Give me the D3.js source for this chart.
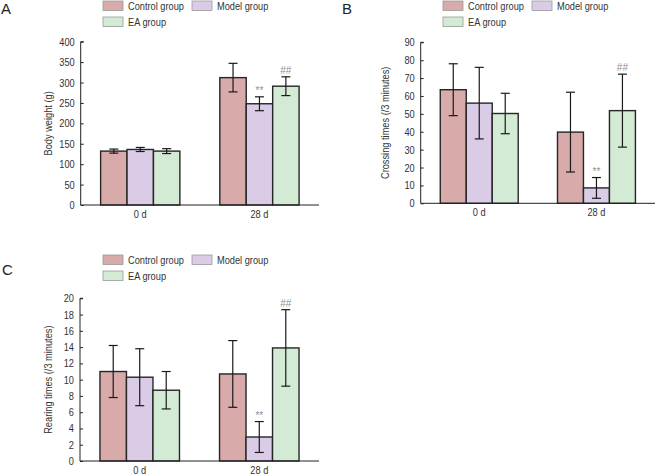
<!DOCTYPE html>
<html><head><meta charset="utf-8">
<script src="https://cdn.jsdelivr.net/npm/d3@7"></script>
<style>body{margin:0;background:#fff;}svg{display:block;font-family:"Liberation Sans",Arial,sans-serif;}</style>
</head><body>
<svg id="c" width="656" height="476"></svg>
<script>
const categories = ["0 d", "28 d"];
const seriesNames = ["Control group", "Model group", "EA group"];
const seriesColors = ["#d8aaaa", "#dacce6", "#d3ead5"];

const weightMean = [[132, 312], [136, 248], [132, 291]];
const weightErr  = [[5, 35], [5, 17], [6, 23]];
const weightTicks = [0, 50, 100, 150, 200, 250, 300, 350, 400];

const crossMean = [[63.5, 39.8], [56, 8.6], [50.2, 51.8]];
const crossErr  = [[14.5, 22.3], [20, 5.8], [11.3, 20.4]];
const crossTicks = [0, 10, 20, 30, 40, 50, 60, 70, 80, 90];

const rearMean = [[11, 10.7], [10.3, 2.95], [8.7, 13.9]];
const rearErr  = [[3.2, 4.1], [3.5, 1.9], [2.3, 4.7]];
const rearTicks = [0, 2, 4, 6, 8, 10, 12, 14, 16, 18, 20];

// significance markers: [seriesIndex, categoryIndex, text]
const marksA = [[1, 1, "**"], [2, 1, "##"]];
const marksB = [[1, 1, "**"], [2, 1, "##"]];
const marksC = [[1, 1, "**"], [2, 1, "##"]];

const NARROW = 0.84;
function condense(sel) {
  sel.each(function () {
    const w = this.getComputedTextLength();
    d3.select(this).attr("textLength", w * NARROW).attr("lengthAdjust", "spacingAndGlyphs");
  });
}
const svg = d3.select("#c");

function panel(cfg) {
  const g = svg.append("g");
  const x = d3.scaleBand().domain(categories).range([cfg.x0, cfg.x1])
    .paddingInner(0.335).paddingOuter(0.167);
  const xs = d3.scaleBand().domain(d3.range(seriesNames.length)).range([0, x.bandwidth()]);
  const y = d3.scaleLinear().domain([0, cfg.max]).range([cfg.yb, cfg.yt]);

  seriesNames.forEach((s, si) => {
    categories.forEach((c, ci) => {
      const v = cfg.mean[si][ci];
      g.append("rect")
        .attr("x", x(c) + xs(si)).attr("y", y(v))
        .attr("width", xs.bandwidth()).attr("height", y(0) - y(v))
        .attr("fill", seriesColors[si]).attr("stroke", "#262626").attr("stroke-width", 1.4);
    });
  });
  seriesNames.forEach((s, si) => {
    categories.forEach((c, ci) => {
      const v = cfg.mean[si][ci], e = cfg.err[si][ci];
      const cx = x(c) + xs(si) + xs.bandwidth() / 2;
      const cap = 4.5;
      g.append("line").attr("x1", cx).attr("x2", cx).attr("y1", y(v + e)).attr("y2", y(v - e))
        .attr("stroke", "#1a1a1a").attr("stroke-width", 1.2);
      [v + e, v - e].forEach(t => g.append("line").attr("x1", cx - cap).attr("x2", cx + cap)
        .attr("y1", y(t)).attr("y2", y(t)).attr("stroke", "#1a1a1a").attr("stroke-width", 1.2));
    });
  });
  cfg.marks.forEach(([si, ci, t]) => {
    const v = cfg.mean[si][ci], e = cfg.err[si][ci];
    const cx = x(categories[ci]) + xs(si) + xs.bandwidth() / 2;
    g.append("text").attr("x", cx).attr("y", y(v + e) - 3).attr("text-anchor", "middle")
      .attr("font-size", 10).attr("fill", "#909090").text(t);
  });

  const ya = d3.axisRight(y).tickValues(cfg.ticks).tickSize(3).tickFormat(d3.format("d"));
  const yg = g.append("g").attr("transform", `translate(${cfg.x0},0)`).call(ya);
  yg.select(".domain").attr("stroke", "#222").attr("d", `M3,${cfg.yt}H0V${cfg.yb}`);
  yg.selectAll(".tick line").attr("stroke", "#222");
  yg.selectAll(".tick text").attr("x", -6).attr("text-anchor", "end")
    .attr("font-size", 11).attr("fill", "#333").attr("font-family", "Liberation Sans, Arial, sans-serif")
    .call(condense);

  const xa = d3.axisBottom(x).tickSize(0).tickPadding(5);
  const xg = g.append("g").attr("transform", `translate(0,${cfg.yb})`).call(xa);
  xg.select(".domain").attr("stroke", "#222").attr("d", `M${cfg.x0},0H${cfg.x1}`);
  xg.selectAll(".tick text").attr("font-size", 11).attr("fill", "#333")
    .attr("font-family", "Liberation Sans, Arial, sans-serif").call(condense);

  g.append("text").attr("transform", `translate(${cfg.lx},${(cfg.yt + cfg.yb) / 2}) rotate(-90)`)
    .attr("text-anchor", "middle").attr("dy", "0.35em").attr("font-size", 11).attr("fill", "#333")
    .text(cfg.label).call(condense);

  g.append("text").attr("x", cfg.px).attr("y", cfg.py).attr("font-size", 15)
    .attr("fill", "#222").text(cfg.letter);

  const lg = g.append("g").attr("transform", `translate(${cfg.legx},${cfg.legy})`);
  const pos = [[0, 0], [89, 0], [0, 16]];
  seriesNames.forEach((s, si) => {
    lg.append("rect").attr("x", pos[si][0]).attr("y", pos[si][1]).attr("width", 20).attr("height", 9.5)
      .attr("fill", seriesColors[si]).attr("stroke", "#9a9a9a").attr("stroke-width", 0.8);
    lg.append("text").attr("x", pos[si][0] + 25).attr("y", pos[si][1] + 4.8).attr("dy", "0.35em")
      .attr("font-size", 11).attr("fill", "#333").text(s).call(condense);
  });
}

panel({mean: weightMean, err: weightErr, ticks: weightTicks, max: 400, marks: marksA,
  x0: 80.7, x1: 319, yt: 41.7, yb: 205, lx: 48, label: "Body weight (g)",
  letter: "A", px: 1, py: 14, legx: 103, legy: 1});
panel({mean: crossMean, err: crossErr, ticks: crossTicks, max: 90, marks: marksB,
  x0: 420.7, x1: 655, yt: 42.3, yb: 203.3, lx: 385, label: "Crossing times (/3 minutes)",
  letter: "B", px: 342, py: 14, legx: 443, legy: 1});
panel({mean: rearMean, err: rearErr, ticks: rearTicks, max: 20, marks: marksC,
  x0: 80, x1: 319, yt: 298.3, yb: 461, lx: 48, label: "Rearing times (/3 minutes)",
  letter: "C", px: 2, py: 275, legx: 103, legy: 255});
</script>
</body></html>
